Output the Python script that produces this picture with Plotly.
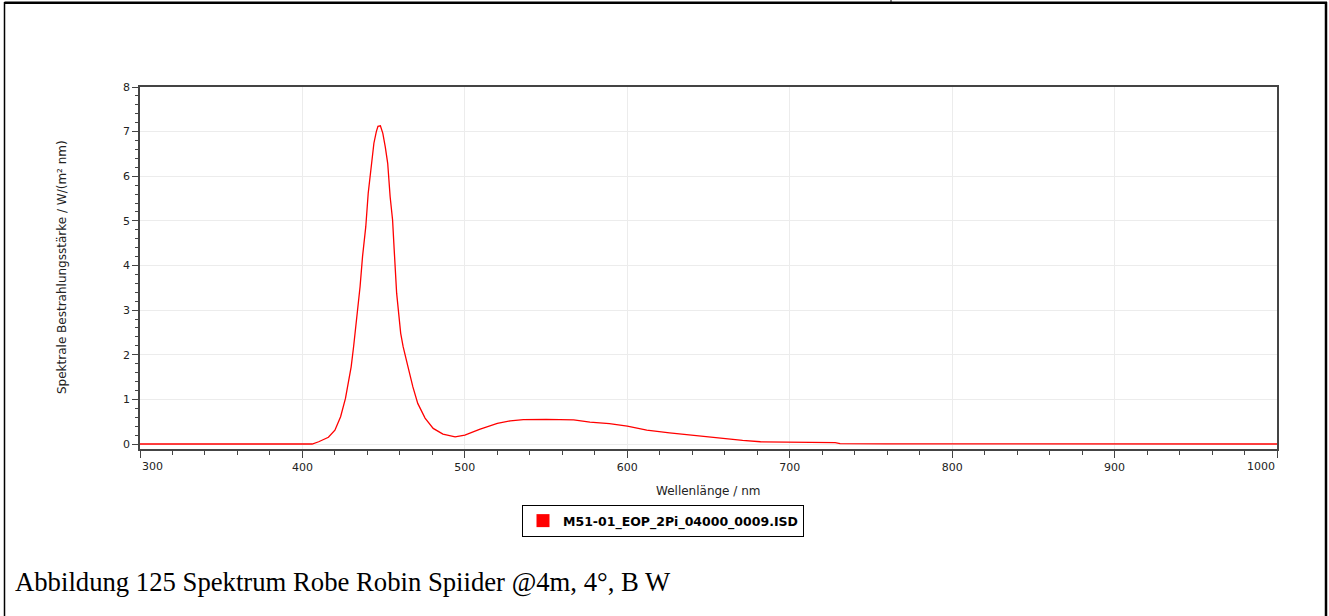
import plotly.graph_objects as go

# spectrum (nm, W/(m² nm))
wavelength = [300, 406, 410, 416, 420, 423.5, 426.5, 430, 431.5, 434, 435.5, 437, 439,
              440.5, 442.5, 444, 445.5, 446.5, 448, 449.5, 451, 452.5, 454, 455.5, 456.5,
              458, 460.5, 462, 465, 468, 471, 475.5, 480.5, 486.5, 494, 500, 509, 520,
              528, 536, 550, 567, 577, 589, 600, 612, 626, 641, 653, 671, 682, 700, 728,
              731, 760, 1000]
irradiance = [0, 0, 0.05, 0.15, 0.31, 0.61, 1.02, 1.73, 2.18, 2.97, 3.53, 4.20, 4.87,
              5.62, 6.21, 6.74, 7.00, 7.12, 7.13, 6.96, 6.66, 6.29, 5.54, 5.02, 4.35,
              3.38, 2.48, 2.18, 1.73, 1.28, 0.91, 0.58, 0.35, 0.22, 0.16, 0.20, 0.33, 0.46,
              0.52, 0.545, 0.55, 0.54, 0.49, 0.455, 0.40, 0.31, 0.25, 0.19, 0.14, 0.08, 0.05,
              0.04, 0.03, 0.01, 0.005, 0]

x_ticks = [300, 400, 500, 600, 700, 800, 900, 1000]
x_labels = ["", "400", "500", "600", "700", "800", "900", ""]
y_ticks = [0, 1, 2, 3, 4, 5, 6, 7, 8]

series_name = "M51-01_EOP_2Pi_04000_0009.ISD"
caption = "Abbildung 125 Spektrum Robe Robin Spiider @4m, 4°, B W"

font = "DejaVu Sans"

fig = go.Figure()
fig.add_trace(go.Scatter(x=wavelength, y=irradiance, mode="lines",
                         line=dict(color="#ff0000", width=1.3), showlegend=False))
# legend entry drawn as a filled square like the original
fig.add_trace(go.Scatter(x=[None], y=[None], mode="markers", name=series_name,
                         marker=dict(symbol="square", size=13, color="#ff0000")))

fig.update_xaxes(range=[300, 1000], tickvals=x_ticks, ticktext=x_labels,
                 ticks="outside", ticklen=7, tickcolor="#444", showline=True,
                 linecolor="#444", linewidth=1.5, mirror=True, showgrid=True,
                 gridcolor="#ececec", zeroline=False,
                 tickfont=dict(family=font, size=11, color="#222"),
                 minor=dict(dtick=20, ticks="outside", ticklen=4, tickcolor="#444",
                            showgrid=False))
fig.update_yaxes(range=[-0.112, 8], tickvals=y_ticks, ticks="outside", ticklen=6,
                 tickcolor="#444", showline=True, linecolor="#444", linewidth=1.5,
                 mirror=True, showgrid=True, gridcolor="#ececec", zeroline=False,
                 tickfont=dict(family=font, size=11, color="#222"),
                 minor=dict(dtick=0.2, ticks="outside", ticklen=3, tickcolor="#444",
                            showgrid=False))

# plot area: x 140..1277, y 87..449 (px)
def px(x):
    return (x - 140) / 1137


def py(y):
    return (449 - y) / 362


annotations = [
    dict(text="300", x=300, xref="x", xanchor="left", y=py(458), yref="paper",
         yanchor="top", showarrow=False, font=dict(family=font, size=11, color="#222")),
    dict(text="1000", x=1000, xref="x", xanchor="right", y=py(458), yref="paper",
         yanchor="top", showarrow=False, font=dict(family=font, size=11, color="#222")),
    dict(text="Wellenlänge / nm", x=px(708), y=py(491), xref="paper", yref="paper",
         xanchor="center", yanchor="middle", showarrow=False,
         font=dict(family=font, size=12, color="#222")),
    dict(text="Spektrale Bestrahlungsstärke / W/(m² nm)", x=px(62), y=py(267),
         xref="paper", yref="paper", textangle=-90, xanchor="center", yanchor="middle",
         showarrow=False, font=dict(family=font, size=12, color="#222")),
    dict(text=caption, x=px(13), y=py(582), xref="paper", yref="paper",
         xanchor="left", yanchor="middle", showarrow=False,
         font=dict(family="Liberation Serif", size=26.7, color="#000")),
]

# page frame around the figure (table cell borders)
shapes = [
    dict(type="line", xref="paper", yref="paper", x0=px(4.5), x1=px(1327), y0=py(2.8), y1=py(2.8),
         line=dict(color="black", width=2.5)),
    dict(type="line", xref="paper", yref="paper", x0=px(4.5), x1=px(4.5), y0=py(2), y1=py(620),
         line=dict(color="black", width=1.5)),
    dict(type="line", xref="paper", yref="paper", x0=px(1326), x1=px(1326), y0=py(2), y1=py(620),
         line=dict(color="black", width=2.5)),
    dict(type="line", xref="paper", yref="paper", x0=px(891), x1=px(891), y0=py(-2), y1=py(3),
         line=dict(color="black", width=1)),
]

fig.update_layout(
    width=1329, height=616,
    margin=dict(l=140, r=52, t=87, b=167),
    paper_bgcolor="white", plot_bgcolor="white",
    annotations=annotations, shapes=shapes,
    legend=dict(x=px(663), y=py(505), xanchor="center", yanchor="top",
                bordercolor="black", borderwidth=1, bgcolor="white",
                font=dict(family=font, size=12.5, color="black", weight="bold")),
)

# drop the browser's default page margin so the figure sits at the top-left corner
fig.write_html("out.html", config={"displayModeBar": False},
               post_script="document.body.style.margin='0';")
